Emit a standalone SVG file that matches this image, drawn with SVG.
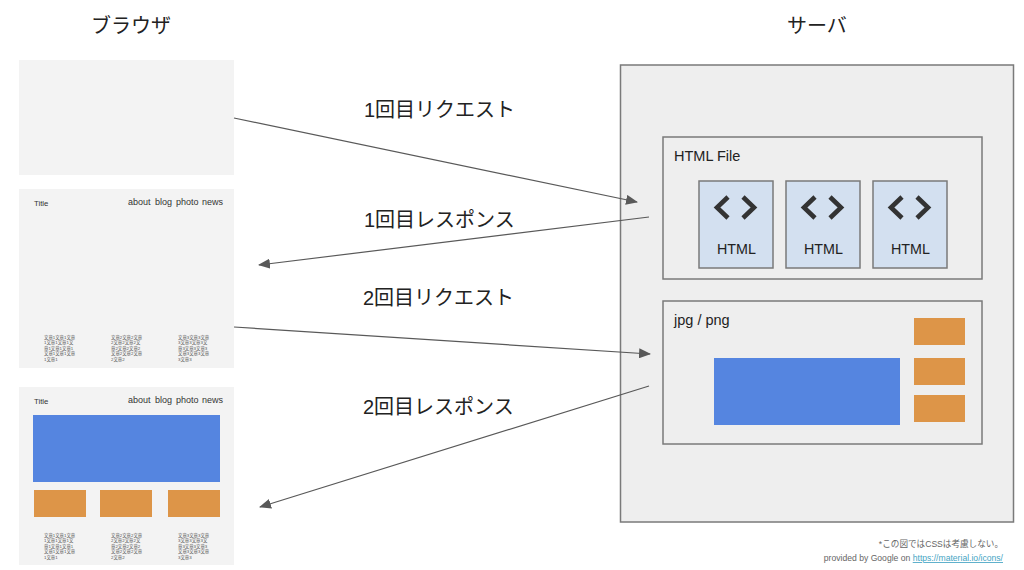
<svg xmlns="http://www.w3.org/2000/svg" width="1024" height="570" viewBox="0 0 1024 570">
<style>
text{font-family:"Liberation Sans","Noto Sans CJK JP",sans-serif;fill:#222}
.h{font-size:20px}
.l{font-size:20px}
.panel{fill:#f3f3f3}
.box{fill:#eeeeee;stroke:#7a7a7a;stroke-width:1.5}
.card{fill:#d3e0f0;stroke:#7a7a7a;stroke-width:1.5}
.blue{fill:#5585e0}
.orange{fill:#dd9548}
.conn{stroke:#595959;stroke-width:1.2;fill:none;marker-end:url(#arrow)}
.icon{fill:none;stroke:#333;stroke-width:4.6}
.t{font-size:7.800px;fill:#333}
.nav{font-size:9px;fill:#333}
.tiny{font-size:4.400px;fill:#555}
.card-l{font-size:14.300px;text-anchor:middle}
.note{font-size:8.600px;fill:#666;text-anchor:end}
</style>
<defs>
<marker id="arrow" markerUnits="userSpaceOnUse" markerWidth="12" markerHeight="10" refX="11" refY="5" orient="auto">
<path d="M0 0L12 5L0 10Z" fill="#595959"/>
</marker>
<g id="code">
<path class="icon" d="M22 -10L11 0.500L22 11"/>
<path class="icon" d="M37 -10L48 0.500L37 11"/>
</g>
<g id="cols">
<text class="tiny"><tspan x="44" dy="0">文章1文章1文章</tspan><tspan x="44" dy="5.4">1文章1文章1文</tspan><tspan x="44" dy="5.4">章1文章1文章1</tspan><tspan x="44" dy="5.4">文章1文章1文章</tspan><tspan x="44" dy="5.4">1文章1</tspan></text>
<text class="tiny"><tspan x="111" dy="0">文章2文章2文章</tspan><tspan x="111" dy="5.4">2文章2文章2文</tspan><tspan x="111" dy="5.4">章2文章2文章2</tspan><tspan x="111" dy="5.4">文章2文章2文章</tspan><tspan x="111" dy="5.4">2文章2</tspan></text>
<text class="tiny"><tspan x="178" dy="0">文章3文章3文章</tspan><tspan x="178" dy="5.4">3文章3文章3文</tspan><tspan x="178" dy="5.4">章3文章3文章3</tspan><tspan x="178" dy="5.4">文章3文章3文章</tspan><tspan x="178" dy="5.4">3文章3</tspan></text>
</g>
</defs>
<rect width="1024" height="570" fill="#ffffff"/>
<g id="heading-browser"><text class="h" x="91" y="33">ブラウザ</text></g>
<g id="heading-server"><text class="h" x="787" y="32.500">サーバ</text></g>
<g id="browser-1"><rect class="panel" x="19" y="60" width="215" height="115"/></g>
<g id="browser-2">
<rect class="panel" x="19" y="189" width="215" height="179"/>
<text class="t" x="34" y="206">Title</text>
<text class="nav" x="128" y="205">about</text><text class="nav" x="155" y="205">blog</text><text class="nav" x="176" y="205">photo</text><text class="nav" x="202" y="205">news</text>
<use href="#cols" y="339"/>
</g>
<g id="browser-3">
<rect class="panel" x="19" y="387" width="215" height="178"/>
<text class="t" x="34" y="404">Title</text>
<text class="nav" x="128" y="403">about</text><text class="nav" x="155" y="403">blog</text><text class="nav" x="176" y="403">photo</text><text class="nav" x="202" y="403">news</text>
<rect class="blue" x="33" y="415" width="187" height="67"/>
<rect class="orange" x="34" y="490" width="52" height="27"/>
<rect class="orange" x="100" y="490" width="52" height="27"/>
<rect class="orange" x="168" y="490" width="52" height="27"/>
<use href="#cols" y="537"/>
</g>
<g id="server">
<rect class="box" x="620.500" y="65" width="393" height="457"/>
</g>
<g id="html-file">
<rect class="box" x="663" y="137" width="319" height="142"/>
<text x="674" y="161" font-size="14.500">HTML File</text>
</g>
<g id="html-1"><rect class="card" x="699" y="181" width="74" height="87"/><use href="#code" x="706" y="207"/><text class="card-l" x="736.500" y="254">HTML</text></g>
<g id="html-2"><rect class="card" x="786" y="181" width="74" height="87"/><use href="#code" x="793" y="207"/><text class="card-l" x="823.500" y="254">HTML</text></g>
<g id="html-3"><rect class="card" x="873" y="181" width="74" height="87"/><use href="#code" x="880" y="207"/><text class="card-l" x="910.500" y="254">HTML</text></g>
<g id="images">
<rect class="box" x="663" y="301" width="319" height="143"/>
<text x="674" y="325" font-size="14.500">jpg / png</text>
<rect class="blue" x="714" y="358" width="186" height="67"/>
<rect class="orange" x="914" y="318" width="51" height="27"/>
<rect class="orange" x="914" y="358" width="51" height="27"/>
<rect class="orange" x="914" y="395" width="51" height="27"/>
</g>
<g id="connectors">
<line class="conn" x1="234" y1="118" x2="637" y2="202"/>
<line class="conn" x1="649" y1="217" x2="259" y2="265"/>
<line class="conn" x1="234" y1="327" x2="650" y2="354"/>
<line class="conn" x1="649" y1="386" x2="260" y2="507"/>
</g>
<g id="labels">
<text class="l" x="364" y="117">1回目リクエスト</text>
<text class="l" x="364" y="227">1回目レスポンス</text>
<text class="l" x="363" y="305">2回目リクエスト</text>
<text class="l" x="363" y="414">2回目レスポンス</text>
</g>
<g id="notes">
<text class="note" x="1003" y="547">*この図ではCSSは考慮しない。</text>
<text class="note" x="1003" y="561">provided by Google on <tspan fill="#46a5c4" text-decoration="underline">https://material.io/icons/</tspan></text>
</g>
</svg>
